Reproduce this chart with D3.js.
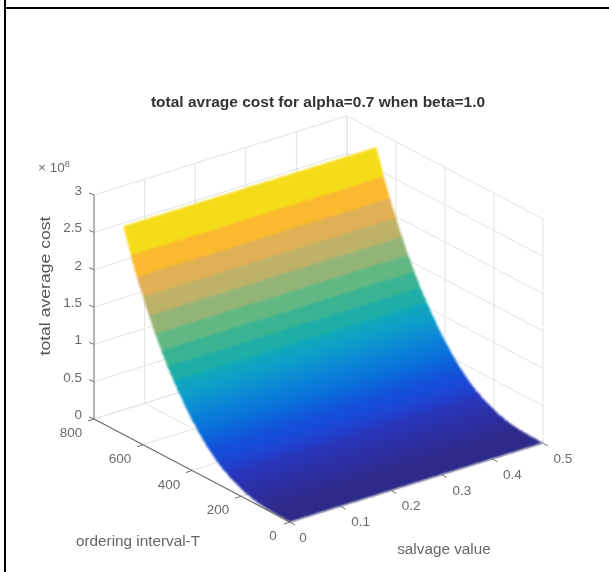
<!DOCTYPE html>
<html>
<head>
<meta charset="utf-8">
<script src="https://d3js.org/d3.v7.min.js"></script>
<style>
html, body { margin: 0; padding: 0; background: #fff; }
svg { display: block; }
text { font-family: 'Liberation Sans', Arial, sans-serif; }
</style>
</head>
<body>
<div id="chart"></div>
<script>
// Data
let intervalT = [0, 25, 50, 75, 100, 125, 150, 175, 200, 225, 250, 275, 300, 325, 350, 375, 400, 425, 450, 475, 500, 525, 550, 575, 600, 625, 650, 680];
let avgCost = [0, 0.001, 0.004, 0.008, 0.015, 0.026, 0.044, 0.07, 0.10, 0.14, 0.185, 0.24, 0.30, 0.38, 0.47, 0.57, 0.68, 0.80, 0.93, 1.07, 1.22, 1.39, 1.57, 1.77, 1.98, 2.2, 2.45, 2.79];
let bandColors = ['#2d2a8a', '#2d2a8a', '#2d2a8a', '#2d2a8a', '#2d2a8c', '#2d2c94', '#2d2d9a', '#2c2fa2', '#2c30a8', '#2a33b2', '#2836bc', '#2040cc', '#1a48d4', '#1450d8', '#0e5eda', '#0a70da', '#0a7fd8', '#0c8fd2', '#0d9fc8', '#10a9ba', '#1eaea8', '#3ab393', '#62b882', '#92b577', '#bdb268', '#dfb055', '#fbb92f', '#f5dc18'];
let salvageRange = [0, 0.5];
let intervalTicks = [0, 200, 400, 600, 800];
let salvageTicks = [0, 0.1, 0.2, 0.3, 0.4, 0.5];
let costTicks = [0, 0.5, 1, 1.5, 2, 2.5, 3];

let width = 609;
let height = 572;

let svg = d3.select('#chart')
	.append('svg')
	.attr('width', width)
	.attr('height', height)
	.attr('viewBox', '0 0 ' + width + ' ' + height);

// Slight softening, the reference is a blurry screenshot
svg.append('filter')
	.attr('id', 'soft')
	.attr('color-interpolation-filters', 'sRGB')
	.append('feGaussianBlur')
	.attr('stdDeviation', 0.45);
svg.append('filter')
	.attr('id', 'softer')
	.attr('color-interpolation-filters', 'sRGB')
	.append('feGaussianBlur')
	.attr('stdDeviation', 1.2);

// Outer frame of the screenshot
svg.append('rect').attr('x', 4).attr('y', 0).attr('width', 2).attr('height', height).attr('fill', 'black');
svg.append('rect').attr('x', 4).attr('y', 7).attr('width', width - 4).attr('height', 2).attr('fill', 'black');

let g = svg.append('g').attr('filter', 'url(#soft)');
let surface = svg.append('g').attr('filter', 'url(#softer)');
let front = svg.append('g').attr('filter', 'url(#soft)');

// Fake 3D view: each data axis moves the point along its own screen direction
let originX = 290;
let originY = 522;
let tX = d3.scaleLinear().domain([0, 800]).range([0, -196]);
let tY = d3.scaleLinear().domain([0, 800]).range([0, -103]);
let sX = d3.scaleLinear().domain(salvageRange).range([0, 253]);
let sY = d3.scaleLinear().domain(salvageRange).range([0, -79]);
let zY = d3.scaleLinear().domain([0, 3]).range([0, -224]);

function project(t, s, z){
	return [originX + tX(t) + sX(s), originY + tY(t) + sY(s) + zY(z)];
}

function segment(layer, a, b, color, w){
	layer.append('line')
	 .attr('x1', a[0]).attr('y1', a[1])
	 .attr('x2', b[0]).attr('y2', b[1])
	 .attr('stroke', color)
	 .attr('stroke-width', w);
}

// Grid on the floor and the two back walls
let gridColor = '#e3e3e3';
for(let i = 0; i < salvageTicks.length; i++){
	let s = salvageTicks[i];
	segment(g, project(0, s, 0), project(800, s, 0), gridColor, 1);
	segment(g, project(800, s, 0), project(800, s, 3), gridColor, 1);
}
for(let i = 0; i < intervalTicks.length; i++){
	let t = intervalTicks[i];
	segment(g, project(t, 0, 0), project(t, 0.5, 0), gridColor, 1);
	segment(g, project(t, 0.5, 0), project(t, 0.5, 3), gridColor, 1);
}
for(let i = 0; i < costTicks.length; i++){
	let z = costTicks[i];
	segment(g, project(800, 0, z), project(800, 0.5, z), gridColor, 1);
	segment(g, project(800, 0.5, z), project(0, 0.5, z), gridColor, 1);
}

// Surface, one band per interval step. The low bands run smoothly into
// each other like in the reference, only the top ones stay flat.
let polygon = d3.line();
let defs = svg.append('defs');
let lastSmoothBand = 19;
let edgeStart = project(0, salvageRange[0], 0);
let edgeEnd = project(0, salvageRange[1], 0);
let edgeLen = Math.hypot(edgeEnd[0] - edgeStart[0], edgeEnd[1] - edgeStart[1]);
let edgeDir = [(edgeEnd[0] - edgeStart[0]) / edgeLen, (edgeEnd[1] - edgeStart[1]) / edgeLen];

for(let i = 0; i < intervalT.length - 1; i++){
	let z0 = avgCost[i];
	let z1 = avgCost[i + 1];
	let t0 = intervalT[i];
	let t1 = intervalT[i + 1];
	let paint = bandColors[i + 1];

	if(i < lastSmoothBand){
		let a = project(t0, salvageRange[0], z0);
		let b = project(t1, salvageRange[0], z1);
		let along = (b[0] - a[0]) * edgeDir[0] + (b[1] - a[1]) * edgeDir[1];
		let grad = defs.append('linearGradient')
			.attr('id', 'band' + i)
			.attr('gradientUnits', 'userSpaceOnUse')
			.attr('x1', a[0])
			.attr('y1', a[1])
			.attr('x2', b[0] - along * edgeDir[0])
			.attr('y2', b[1] - along * edgeDir[1]);
		grad.append('stop').attr('offset', 0).attr('stop-color', bandColors[i]);
		grad.append('stop').attr('offset', 1).attr('stop-color', bandColors[i + 1]);
		paint = 'url(#band' + i + ')';
	}

	// crispEdges, antialiased neighbours let the white show through at the seams
	surface.append('path')
	 .attr('d', polygon([
		project(t0, salvageRange[0], z0),
		project(t0, salvageRange[1], z0),
		project(t1, salvageRange[1], z1),
		project(t1, salvageRange[0], z1)
	 ]) + 'Z')
	 .attr('fill', paint)
	 .attr('shape-rendering', 'crispEdges');
}

// Axis lines
let axisColor = '#6e6e6e';
segment(front, project(800, 0, 0), project(800, 0, 3), '#8c8c8c', 1.2);
segment(front, project(800, 0, 0), project(0, 0, 0), axisColor, 1.2);
segment(front, project(0, 0, 0), project(0, 0.5, 0), '#9a9aa8', 0.8);

function tickLabel(str, x, y, anchor){
	front.append('text')
	 .text(str)
	 .attr('x', x)
	 .attr('y', y)
	 .attr('text-anchor', anchor)
	 .attr('font-size', 13.5)
	 .attr('fill', '#6a6a6a');
}

for(let i = 0; i < costTicks.length; i++){
	let p = project(800, 0, costTicks[i]);
	segment(front, p, [p[0] - 5, p[1] - 2], axisColor, 1);
	tickLabel(costTicks[i], p[0] - 12, p[1], 'end');
}
for(let i = 0; i < intervalTicks.length; i++){
	let p = project(intervalTicks[i], 0, 0);
	segment(front, p, [p[0] - 6, p[1] + 2], axisColor, 1);
	tickLabel(intervalTicks[i], p[0] - (intervalTicks[i] === 0 ? 17 : 23), p[1] + 18, 'middle');
}
for(let i = 0; i < salvageTicks.length; i++){
	let p = project(0, salvageTicks[i], 0);
	segment(front, p, [p[0] + 5, p[1] + 3], axisColor, 1);
	tickLabel(salvageTicks[i], p[0] + (salvageTicks[i] === 0 ? 13 : 20), p[1] + 20, 'middle');
}

// Titles
front.append('text')
 .text('total avrage cost for alpha=0.7 when beta=1.0')
 .attr('x', 318)
 .attr('y', 107)
 .attr('text-anchor', 'middle')
 .attr('font-size', 15.5)
 .attr('font-weight', 'bold')
 .attr('fill', '#333');

front.append('text')
 .text('total average cost')
 .attr('transform', 'translate(50, 286) rotate(-90)')
 .attr('text-anchor', 'middle')
 .attr('font-size', 15.5)
 .attr('textLength', 139)
 .attr('lengthAdjust', 'spacingAndGlyphs')
 .attr('fill', '#555');

front.append('text')
 .text('ordering interval-T')
 .attr('x', 138)
 .attr('y', 546)
 .attr('text-anchor', 'middle')
 .attr('font-size', 15.3)
 .attr('fill', '#666');

front.append('text')
 .text('salvage value')
 .attr('x', 444)
 .attr('y', 554)
 .attr('text-anchor', 'middle')
 .attr('font-size', 15.3)
 .attr('fill', '#666');

let scaleNote = front.append('text')
 .attr('x', 38)
 .attr('y', 172)
 .attr('font-size', 13.5)
 .attr('fill', '#6a6a6a');
scaleNote.append('tspan').text('\u00d7 10');
scaleNote.append('tspan').text('8').attr('font-size', 9).attr('dy', -5);
</script>
</body>
</html>
